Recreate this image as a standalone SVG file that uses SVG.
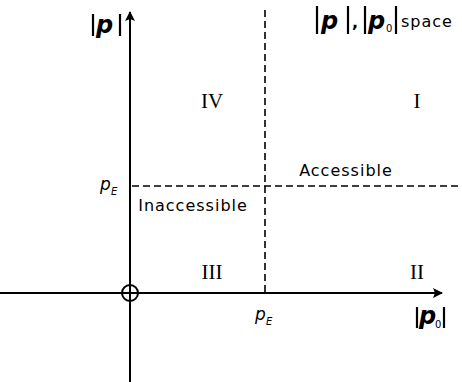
<svg xmlns="http://www.w3.org/2000/svg" width="462" height="382" viewBox="0 0 462 382">
<defs>
<marker id="arr" viewBox="0 0 10 10" refX="9" refY="5" markerWidth="10" markerHeight="10" markerUnits="userSpaceOnUse" orient="auto">
<path d="M0,0 L10,5 L0,10 L2,5 Z" fill="#000"/>
</marker>
<style>
.ax{stroke:#000;stroke-width:2;fill:none}
.ds{stroke:#000;stroke-width:1.6;stroke-dasharray:7,4;fill:none}
.t{font-family:"DejaVu Sans",sans-serif;font-size:16px;letter-spacing:1px;fill:#000}
.rn{font-family:"Liberation Serif",serif;font-size:21px;fill:#000}
.p{font-family:"DejaVu Sans",sans-serif;font-weight:bold;font-style:italic;font-size:24px;fill:#000}
.pe{font-family:"DejaVu Sans",sans-serif;font-style:italic;font-size:17px;fill:#000}
.sub{font-family:"DejaVu Sans",sans-serif;font-size:10px;fill:#000}
.bar{stroke:#000;stroke-width:2.2}
</style>
</defs>
<g id="connectors">
<line class="ax" x1="130" y1="382" x2="130" y2="12" marker-end="url(#arr)"/>
<line class="ax" x1="0" y1="293" x2="442" y2="293" marker-end="url(#arr)"/>
<line class="ds" x1="265" y1="10" x2="265" y2="293"/>
<line class="ds" x1="132" y1="186" x2="462" y2="186"/>
<circle cx="130" cy="293" r="8" class="ax"/>
</g>
<g id="label-p-axis">
<line class="bar" x1="93" y1="14" x2="93" y2="36"/>
<text class="p" x="96" y="33">p</text>
<line class="bar" x1="120" y1="14" x2="120" y2="36"/>
</g>
<g id="title">
<line class="bar" x1="317" y1="6" x2="317" y2="34"/>
<text class="p" x="321" y="29">p</text>
<line class="bar" x1="348" y1="6" x2="348" y2="34"/>
<text class="t" x="352" y="28" font-weight="bold">,</text>
<line class="bar" x1="365" y1="6" x2="365" y2="34"/>
<text class="p" x="368" y="29">p</text>
<text class="sub" x="386" y="32">0</text>
<line class="bar" x1="396" y1="6" x2="396" y2="34"/>
<text class="t" x="401" y="27" font-size="14" letter-spacing="0">space</text>
</g>
<g id="region-IV"><text class="rn" x="212" y="108" text-anchor="middle">IV</text></g>
<g id="region-I"><text class="rn" x="417" y="108" text-anchor="middle">I</text></g>
<g id="region-III"><text class="rn" x="212" y="279" text-anchor="middle">III</text></g>
<g id="region-II"><text class="rn" x="417" y="279" text-anchor="middle">II</text></g>
<g id="accessible"><text class="t" x="346" y="176" text-anchor="middle">Accessible</text></g>
<g id="inaccessible"><text class="t" x="193" y="211" text-anchor="middle">Inaccessible</text></g>
<g id="pE-left"><text class="pe" x="100" y="190">p</text><text class="sub" x="111" y="195" font-style="italic" font-size="11">E</text></g>
<g id="pE-bottom"><text class="pe" x="255" y="320">p</text><text class="sub" x="266" y="325" font-style="italic" font-size="11">E</text></g>
<g id="label-p0-axis">
<line class="bar" x1="417" y1="307" x2="417" y2="328"/>
<text class="p" x="419" y="324" font-size="20">p</text>
<text class="sub" x="435" y="328">0</text>
<line class="bar" x1="444" y1="307" x2="444" y2="328"/>
</g>
</svg>
